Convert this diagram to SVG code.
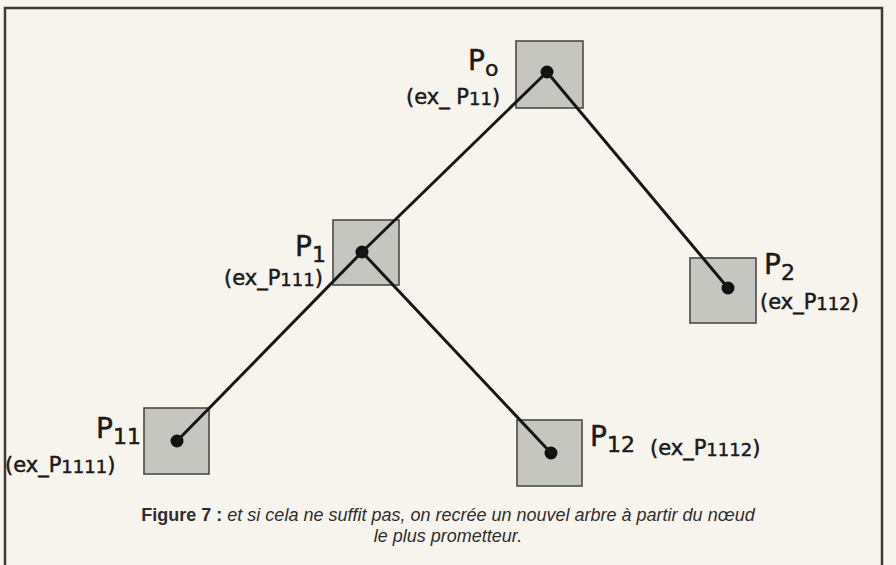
<svg xmlns="http://www.w3.org/2000/svg" width="896" height="565" viewBox="0 0 896 565">
<style>
.bg{fill:#f7f4ee}
.frame{fill:none;stroke:#3a3a3a;stroke-width:2.5}
.box{fill:#c6c6c1;stroke:#4a4a4a;stroke-width:1.6}
.dot{fill:#111}
.edge{stroke:#161616;stroke-width:3;fill:none;stroke-linecap:round}
.hand{font-family:"DejaVu Sans","Liberation Sans",sans-serif;fill:#1a1a1a;stroke:#1a1a1a;stroke-width:0.5}
.big{font-size:28px}
.sub{font-size:22px}
.ex{font-size:21px}
.exs{font-size:18px}
.cap{font-family:"Liberation Sans",Arial,sans-serif;font-size:18px;fill:#2e2e2e}
</style>
<rect class="bg" x="0" y="0" width="896" height="565"/>
<path class="frame" d="M5,565 V8 H882 V565"/>
<g id="P0">
<rect class="box" x="516" y="41" width="67" height="67"/>
<circle class="dot" cx="547" cy="72" r="6.5"/>
<text class="hand big" x="468" y="70">P<tspan class="sub" dy="6">o</tspan></text>
<text class="hand ex" x="406" y="104">(ex_ P<tspan class="exs" dy="1">11</tspan><tspan dy="-1">)</tspan></text>
</g>
<g id="P1">
<rect class="box" x="333" y="220" width="66" height="65"/>
<circle class="dot" cx="362" cy="252" r="6.5"/>
<text class="hand big" x="295" y="256">P<tspan class="sub" dy="6">1</tspan></text>
<text class="hand ex" x="224" y="285">(ex_P<tspan class="exs" dy="1">111</tspan><tspan dy="-1">)</tspan></text>
</g>
<g id="P2">
<rect class="box" x="690" y="258" width="66" height="65"/>
<circle class="dot" cx="728" cy="288" r="6.5"/>
<text class="hand big" x="764" y="274">P<tspan class="sub" dy="6">2</tspan></text>
<text class="hand ex" x="760" y="309">(ex_P<tspan class="exs" dy="1">112</tspan><tspan dy="-1">)</tspan></text>
</g>
<g id="P11">
<rect class="box" x="144" y="408" width="65" height="66"/>
<circle class="dot" cx="177" cy="441" r="6.5"/>
<text class="hand big" x="96" y="438">P<tspan class="sub" dy="6">11</tspan></text>
<text class="hand ex" x="5" y="472">(ex_P<tspan class="exs" dy="1">1111</tspan><tspan dy="-1">)</tspan></text>
</g>
<g id="P12">
<rect class="box" x="517" y="420" width="65" height="66"/>
<circle class="dot" cx="551" cy="453" r="6.5"/>
<text class="hand big" x="590" y="446">P<tspan class="sub" dy="6">12</tspan></text>
<text class="hand ex" x="650" y="455">(ex_P<tspan class="exs" dy="1">1112</tspan><tspan dy="-1">)</tspan></text>
</g>
<g id="connectors">
<line class="edge" x1="547" y1="72" x2="362" y2="252"/>
<line class="edge" x1="547" y1="72" x2="728" y2="288"/>
<line class="edge" x1="362" y1="252" x2="177" y2="441"/>
<line class="edge" x1="362" y1="252" x2="551" y2="453"/>
</g>
<g id="caption">
<text class="cap" x="448" y="521" text-anchor="middle"><tspan font-weight="bold">Figure 7 : </tspan><tspan font-style="italic">et si cela ne suffit pas, on recrée un nouvel arbre à partir du nœud</tspan></text>
<text class="cap" x="448" y="542" text-anchor="middle" font-style="italic">le plus prometteur.</text>
</g>
</svg>
